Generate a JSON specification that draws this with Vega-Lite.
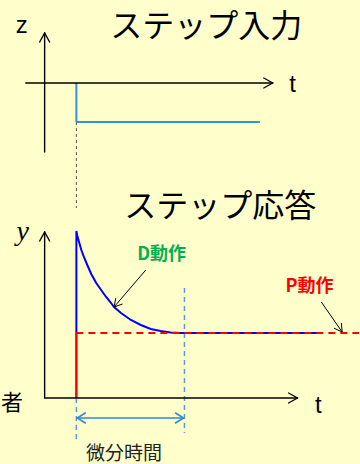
{
  "$schema": "https://vega.github.io/schema/vega-lite/v6.json",
  "width": 360,
  "height": 464,
  "autosize": {"type": "fit", "contains": "padding"},
  "padding": 0,
  "background": "#FFFFCC",
  "config": {"view": {"stroke": null}},
  "datasets": {
    "segs": [
      {"x": 43, "y": 33, "x2": 43, "y2": 152, "g": "ax"},
      {"x": 24, "y": 83, "x2": 273, "y2": 83, "g": "ax"},
      {"x": 43, "y": 232, "x2": 43, "y2": 398, "g": "ax"},
      {"x": 43, "y": 398, "x2": 298, "y2": 398, "g": "ax"},
      {"x": 43, "y": 33, "x2": 38, "y2": 42, "g": "ax"},
      {"x": 43, "y": 33, "x2": 48, "y2": 42, "g": "ax"},
      {"x": 273, "y": 83, "x2": 264, "y2": 78, "g": "ax"},
      {"x": 273, "y": 83, "x2": 264, "y2": 88, "g": "ax"},
      {"x": 43, "y": 232, "x2": 38, "y2": 241, "g": "ax"},
      {"x": 43, "y": 232, "x2": 48, "y2": 241, "g": "ax"},
      {"x": 298, "y": 398, "x2": 289, "y2": 393, "g": "ax"},
      {"x": 298, "y": 398, "x2": 289, "y2": 403, "g": "ax"},
      {"x": 145, "y": 270, "x2": 113, "y2": 307, "g": "ptr"},
      {"x": 113, "y": 307, "x2": 121.5, "y2": 304, "g": "ptr"},
      {"x": 113, "y": 307, "x2": 114.7, "y2": 298.2, "g": "ptr"},
      {"x": 322, "y": 302, "x2": 343, "y2": 332, "g": "ptr"},
      {"x": 343, "y": 332, "x2": 342.2, "y2": 323, "g": "ptr"},
      {"x": 343, "y": 332, "x2": 334.8, "y2": 328.2, "g": "ptr"},
      {"x": 75, "y": 83, "x2": 75, "y2": 122, "g": "step"},
      {"x": 75, "y": 122, "x2": 260, "y2": 122, "g": "step"},
      {"x": 75, "y": 122, "x2": 75, "y2": 208, "g": "dot"},
      {"x": 184, "y": 288, "x2": 184, "y2": 433, "g": "bdash"},
      {"x": 75, "y": 398, "x2": 75, "y2": 443, "g": "bdash"},
      {"x": 76, "y": 418, "x2": 183, "y2": 418, "g": "dbl"},
      {"x": 76, "y": 418, "x2": 84, "y2": 413, "g": "dbl"},
      {"x": 76, "y": 418, "x2": 84, "y2": 423, "g": "dbl"},
      {"x": 183, "y": 418, "x2": 175, "y2": 413, "g": "dbl"},
      {"x": 183, "y": 418, "x2": 175, "y2": 423, "g": "dbl"},
      {"x": 75, "y": 333, "x2": 75, "y2": 398, "g": "rs"},
      {"x": 75, "y": 333, "x2": 360, "y2": 333, "g": "rd"}
    ],
    "curve": [
      {"o": 0, "x": 75, "y": 333},
      {"o": 1, "x": 75, "y": 231},
      {"o": 2, "x": 76, "y": 236},
      {"o": 3, "x": 78, "y": 243},
      {"o": 4, "x": 80, "y": 250},
      {"o": 5, "x": 83, "y": 258},
      {"o": 6, "x": 86, "y": 265},
      {"o": 7, "x": 90, "y": 274},
      {"o": 8, "x": 95, "y": 283},
      {"o": 9, "x": 100, "y": 290},
      {"o": 10, "x": 105, "y": 297},
      {"o": 11, "x": 110, "y": 303},
      {"o": 12, "x": 113, "y": 307},
      {"o": 13, "x": 120, "y": 313},
      {"o": 14, "x": 130, "y": 320},
      {"o": 15, "x": 140, "y": 325},
      {"o": 16, "x": 150, "y": 329},
      {"o": 17, "x": 160, "y": 331},
      {"o": 18, "x": 170, "y": 332.5},
      {"o": 19, "x": 180, "y": 333},
      {"o": 20, "x": 322, "y": 333}
    ],
    "labels": [
      {"x": 20, "y": 33, "t": "z", "g": "lat"},
      {"x": 293, "y": 92, "t": "t", "g": "lat"},
      {"x": 319, "y": 413, "t": "t", "g": "lat"},
      {"x": 21, "y": 240, "t": "y", "g": "ital"},
      {"x": 206, "y": 27, "t": "ステップ入力", "g": "title"},
      {"x": 220, "y": 207, "t": "ステップ応答", "g": "title"},
      {"x": 10, "y": 403, "t": "者", "g": "cut"},
      {"x": 123, "y": 454, "t": "微分時間", "g": "small"},
      {"x": 161, "y": 255, "t": "D動作", "g": "green"},
      {"x": 310, "y": 287, "t": "P動作", "g": "red"}
    ]
  },
  "encoding": {
    "x": {"field": "x", "type": "quantitative", "scale": {"domain": [0, 360], "nice": false, "zero": false}, "axis": null},
    "y": {"field": "y", "type": "quantitative", "scale": {"domain": [0, 464], "nice": false, "zero": false, "reverse": true}, "axis": null}
  },
  "layer": [
    {"data": {"name": "segs"}, "transform": [{"filter": "datum.g === 'step'"}], "mark": {"type": "rule", "color": "#3A8FCF", "strokeWidth": 2}, "encoding": {"x2": {"field": "x2"}, "y2": {"field": "y2"}}},
    {"data": {"name": "segs"}, "transform": [{"filter": "datum.g === 'dot'"}], "mark": {"type": "rule", "color": "#555555", "strokeWidth": 1, "strokeDash": [3, 3]}, "encoding": {"x2": {"field": "x2"}, "y2": {"field": "y2"}}},
    {"data": {"name": "segs"}, "transform": [{"filter": "datum.g === 'bdash'"}], "mark": {"type": "rule", "color": "#5B9BD5", "strokeWidth": 1.5, "strokeDash": [5, 4]}, "encoding": {"x2": {"field": "x2"}, "y2": {"field": "y2"}}},
    {"data": {"name": "curve"}, "mark": {"type": "line", "color": "#0000FF", "strokeWidth": 2}, "encoding": {"order": {"field": "o", "type": "quantitative"}}},
    {"data": {"name": "segs"}, "transform": [{"filter": "datum.g === 'rd'"}], "mark": {"type": "rule", "color": "#FF0000", "strokeWidth": 2, "strokeDash": [7, 5]}, "encoding": {"x2": {"field": "x2"}, "y2": {"field": "y2"}}},
    {"data": {"name": "segs"}, "transform": [{"filter": "datum.g === 'rs'"}], "mark": {"type": "rule", "color": "#FF0000", "strokeWidth": 2.5}, "encoding": {"x2": {"field": "x2"}, "y2": {"field": "y2"}}},
    {"data": {"name": "segs"}, "transform": [{"filter": "datum.g === 'ax'"}], "mark": {"type": "rule", "color": "#000000", "strokeWidth": 1.4, "strokeCap": "round"}, "encoding": {"x2": {"field": "x2"}, "y2": {"field": "y2"}}},
    {"data": {"name": "segs"}, "transform": [{"filter": "datum.g === 'ptr'"}], "mark": {"type": "rule", "color": "#000000", "strokeWidth": 1}, "encoding": {"x2": {"field": "x2"}, "y2": {"field": "y2"}}},
    {"data": {"name": "segs"}, "transform": [{"filter": "datum.g === 'dbl'"}], "mark": {"type": "rule", "color": "#2E8BD0", "strokeWidth": 1.5, "strokeCap": "round"}, "encoding": {"x2": {"field": "x2"}, "y2": {"field": "y2"}}},
    {"data": {"name": "labels"}, "transform": [{"filter": "datum.g === 'lat'"}], "mark": {"type": "text", "font": "Liberation Sans", "fontSize": 24, "color": "#000000", "align": "center", "baseline": "alphabetic"}, "encoding": {"text": {"field": "t"}}},
    {"data": {"name": "labels"}, "transform": [{"filter": "datum.g === 'ital'"}], "mark": {"type": "text", "font": "Liberation Serif", "fontStyle": "italic", "fontSize": 28, "color": "#000000", "align": "center", "baseline": "alphabetic"}, "encoding": {"text": {"field": "t"}}},
    {"data": {"name": "labels"}, "transform": [{"filter": "datum.g === 'title'"}], "mark": {"type": "text", "font": "Noto Sans CJK JP", "fontSize": 32, "color": "#000000", "align": "center", "baseline": "middle"}, "encoding": {"text": {"field": "t"}}},
    {"data": {"name": "labels"}, "transform": [{"filter": "datum.g === 'cut'"}], "mark": {"type": "text", "font": "Noto Sans CJK JP", "fontSize": 22, "color": "#000000", "align": "center", "baseline": "middle"}, "encoding": {"text": {"field": "t"}}},
    {"data": {"name": "labels"}, "transform": [{"filter": "datum.g === 'small'"}], "mark": {"type": "text", "font": "Noto Sans CJK JP", "fontSize": 19, "color": "#222222", "align": "center", "baseline": "middle"}, "encoding": {"text": {"field": "t"}}},
    {"data": {"name": "labels"}, "transform": [{"filter": "datum.g === 'green'"}], "mark": {"type": "text", "font": "Noto Sans CJK JP", "fontSize": 18, "fontWeight": "bold", "color": "#00B050", "align": "center", "baseline": "middle"}, "encoding": {"text": {"field": "t"}}},
    {"data": {"name": "labels"}, "transform": [{"filter": "datum.g === 'red'"}], "mark": {"type": "text", "font": "Noto Sans CJK JP", "fontSize": 18, "fontWeight": "bold", "color": "#FF0000", "align": "center", "baseline": "middle"}, "encoding": {"text": {"field": "t"}}}
  ]
}
